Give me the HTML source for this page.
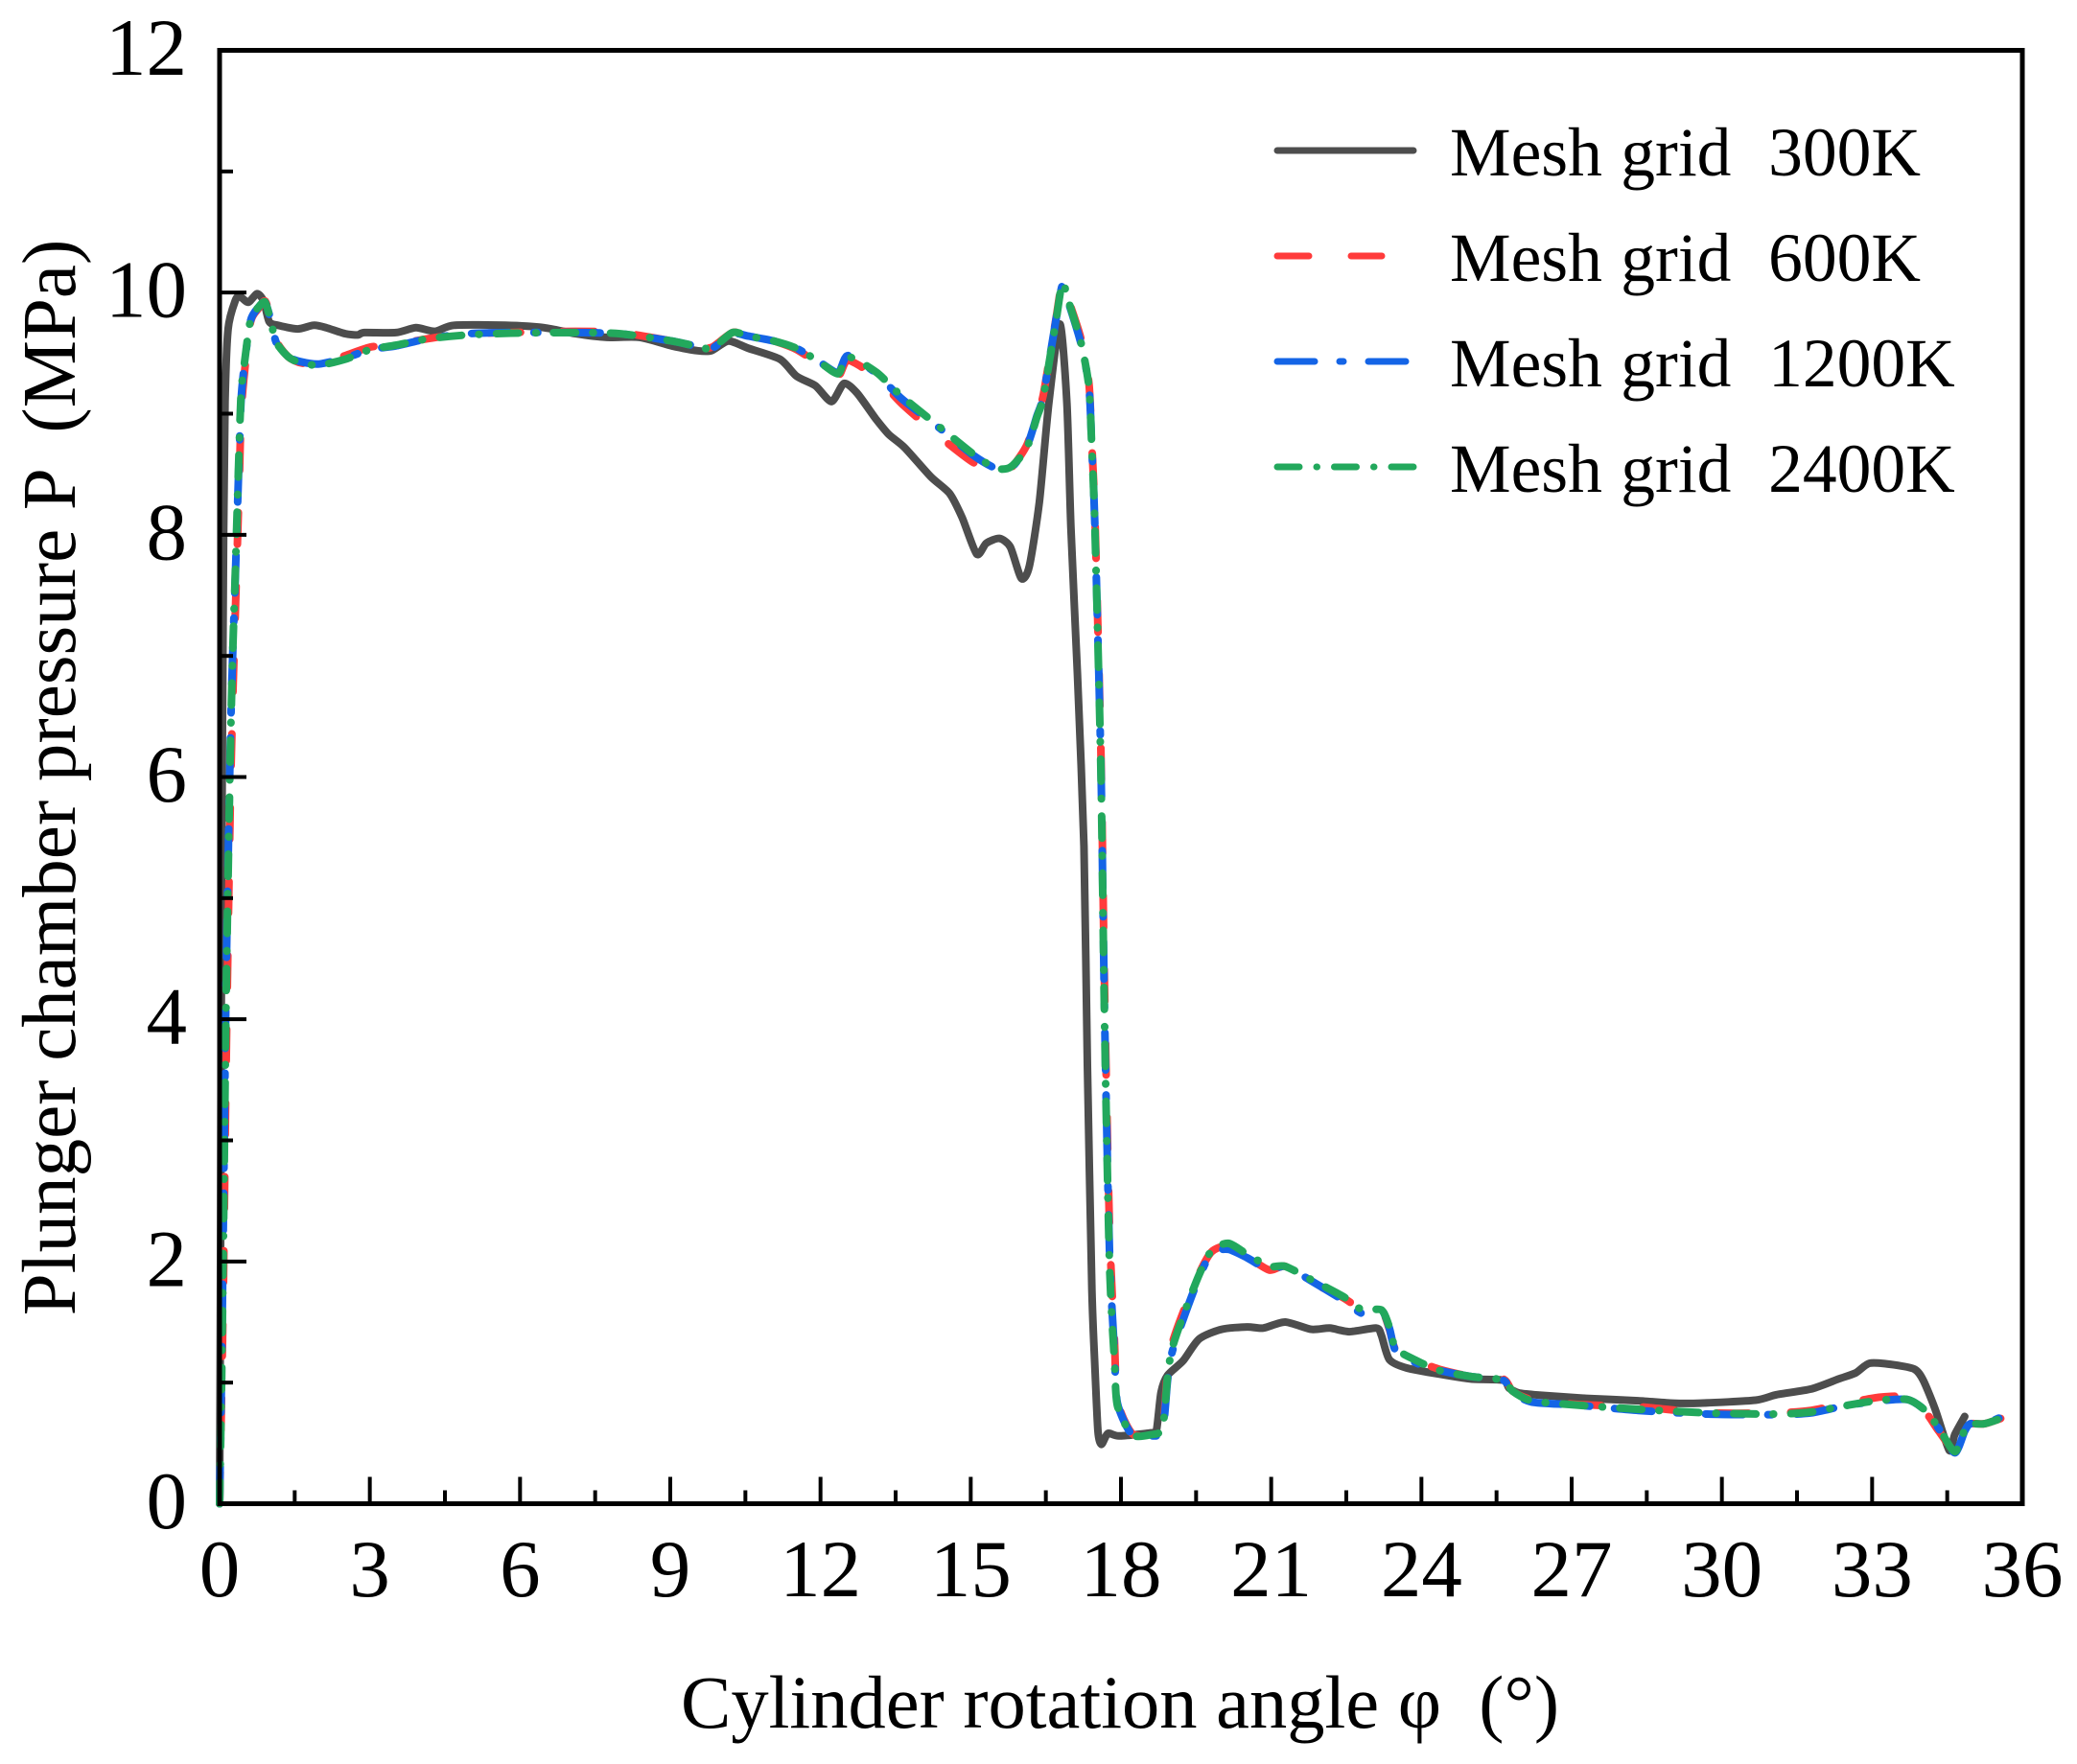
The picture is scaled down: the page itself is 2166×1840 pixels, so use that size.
<!DOCTYPE html>
<html lang="en">
<head>
<meta charset="utf-8">
<title>Plunger chamber pressure vs cylinder rotation angle</title>
<style>
html,body{margin:0;padding:0;background:#fff;width:2166px;height:1840px;overflow:hidden}
svg{display:block}
text{font-family:"Liberation Serif","Times New Roman",serif;fill:#000;white-space:pre}
</style>
</head>
<body>
<svg id="chart" xmlns="http://www.w3.org/2000/svg" width="2166" height="1840" viewBox="0 0 2166 1840">
  <rect x="0" y="0" width="2166" height="1840" fill="#fff"/>
  <g id="series" fill="none" stroke-linecap="round" stroke-linejoin="round"></g>
  <g id="axes"></g>
  <text transform="translate(78,811) rotate(-90)" text-anchor="middle" font-size="79">Plunger chamber pressure P  (MPa)</text>
  <text x="1168" y="1802" text-anchor="middle" font-size="78.5">Cylinder rotation angle φ  (°)</text>
  <g fill="none" stroke-linecap="round" stroke-width="7">
    <g>
      <line x1="1332" y1="157" x2="1474" y2="157" stroke="#4d4d4d"/>
      <text x="1512" y="183" font-size="71.5" word-spacing="1.5">Mesh grid  300K</text>
    </g>
    <g>
      <line x1="1332" y1="267" x2="1441" y2="267" stroke="#ff3b3b" stroke-dasharray="33 44"/>
      <text x="1512" y="293" font-size="71.5" word-spacing="1.5">Mesh grid  600K</text>
    </g>
    <g>
      <line x1="1332" y1="377" x2="1470" y2="377" stroke="#1464e6" stroke-dasharray="39 26 4 26"/>
      <text x="1512" y="403" font-size="71.5" word-spacing="1.5">Mesh grid  1200K</text>
    </g>
    <g>
      <line x1="1332" y1="487" x2="1474" y2="487" stroke="#22a85c" stroke-dasharray="23 18 0.5 18"/>
      <text x="1512" y="513" font-size="71.5" word-spacing="1.5">Mesh grid  2400K</text>
    </g>
  </g>
</svg>
<script>
const xTickLabels = [0,3,6,9,12,15,18,21,24,27,30,33,36];
const yTickLabels = [0,2,4,6,8,10,12];
const xMinorTicks = [1.5,4.5,7.5,10.5,13.5,16.5,19.5,22.5,25.5,28.5,31.5,34.5];
const yMinorTicks = [1,3,5,7,9,11];

const anglesCoarse = [0,.02,.04,.08,.11,.17,.31,.4,.57,.75,.88,.99,1.16,1.56,1.88,2.13,2.51,2.76,2.89,3.52,3.92,4.3,4.68,5.7,6.48,7.11,7.73,8.39,9.03,9.54,9.82,10.16,10.56,11.19,11.52,11.9,12.22,12.47,12.73,13.1,13.36,13.68,14.2,14.58,14.83,15.12,15.31,15.57,15.79,16.01,16.17,16.37,16.56,16.78,16.92,17,17.13,17.26,17.33,17.42,17.48,17.54,17.61,17.74,17.96,18.6,18.71,18.8,18.93,19.24,19.56,20.01,20.52,20.84,21.28,21.8,22.17,22.56,23.1,23.2,23.36,23.71,24.36,24.99,25.63,25.75,25.94,26.25,27.29,28.33,29.02,29.57,30.67,31.09,31.78,32.33,32.67,32.95,33.43,33.85,34.02,34.26,34.54,34.65,34.85];
const pressure300K = [0,2,5,8,9.1,9.7,9.93,9.97,9.92,9.99,9.93,9.76,9.73,9.7,9.73,9.71,9.66,9.65,9.67,9.67,9.71,9.68,9.73,9.73,9.71,9.66,9.63,9.63,9.56,9.52,9.52,9.6,9.54,9.45,9.31,9.23,9.1,9.25,9.17,8.96,8.83,8.72,8.48,8.34,8.14,7.84,7.93,7.97,7.9,7.64,7.74,8.27,9.09,9.74,9.09,8.06,6.85,5.43,3.62,1.76,1.13,.6,.49,.58,.56,.585,.61,.92,1.06,1.18,1.36,1.44,1.46,1.45,1.5,1.44,1.45,1.42,1.45,1.39,1.19,1.12,1.07,1.03,1.02,.955,.915,.9,.87,.85,.83,.83,.855,.9,.947,1.03,1.08,1.16,1.147,1.11,1.02,.78,.44,.57,.72];

const anglesFine = [0,.04,.08,.13,.21,.26,.31,.39,.43,.5,.62,.78,.91,1.03,1.13,1.37,1.61,1.99,2.51,3.01,3.52,4.17,4.94,5.82,7.11,8,9.03,9.59,9.84,10.24,10.56,11.07,11.52,11.97,12.35,12.55,13.12,13.63,14.41,15.04,15.49,15.8,16.12,16.32,16.45,16.7,16.83,16.95,17.2,17.36,17.42,17.48,17.6,17.67,17.77,17.87,17.93,18.22,18.6,18.83,18.93,19.02,19.24,19.56,19.81,20.14,20.52,20.96,21.28,21.8,22.44,22.82,23.2,23.36,23.49,23.91,24.36,24.99,25.63,25.82,26.2,27.08,28.33,29.71,31.09,31.78,32.47,33.16,33.71,34.06,34.33,34.65,34.85,34.96,35.24,35.61];
const pressure600K = [0,.9,1.9,3.6,5.7,6.6,7.3,8.4,9,9.35,9.76,9.87,9.93,9.78,9.6,9.47,9.42,9.41,9.48,9.55,9.57,9.62,9.66,9.67,9.68,9.67,9.6,9.55,9.55,9.67,9.65,9.6,9.53,9.41,9.31,9.44,9.3,9.08,8.8,8.6,8.52,8.55,8.74,8.99,9.16,9.78,10.09,9.94,9.62,9.25,8.73,8.15,6.2,4.3,2.3,1.35,.85,.58,.57,.63,1.1,1.32,1.58,1.9,2.08,2.13,2.04,1.93,1.96,1.83,1.7,1.6,1.6,1.44,1.27,1.18,1.11,1.05,1.03,.93,.86,.82,.8,.75,.75,.77,.83,.88,.88,.76,.6,.44,.6,.66,.66,.71];
const pressure1200K = [0,1.1,2.5,4.3,6.2,7,7.6,8.65,9.12,9.42,9.77,9.88,9.92,9.76,9.59,9.47,9.43,9.41,9.46,9.53,9.56,9.62,9.66,9.67,9.67,9.66,9.6,9.55,9.54,9.66,9.64,9.6,9.54,9.43,9.34,9.48,9.33,9.12,8.87,8.66,8.55,8.55,8.73,8.98,9.15,9.77,10.06,9.92,9.58,9.22,8.7,8.08,6.1,4.1,2.1,1.25,.83,.57,.56,.6,1.02,1.25,1.52,1.87,2.07,2.1,2.03,1.93,1.96,1.84,1.68,1.57,1.6,1.45,1.26,1.16,1.1,1.05,1.02,.92,.84,.815,.77,.74,.735,.75,.81,.85,.86,.77,.62,.42,.6,.66,.66,.72];
const pressure2400K = [0,1,2.3,4.15,6.13,7,7.64,8.72,9.17,9.43,9.78,9.88,9.92,9.75,9.59,9.47,9.42,9.4,9.45,9.53,9.565,9.62,9.65,9.665,9.67,9.66,9.6,9.55,9.54,9.67,9.64,9.6,9.54,9.43,9.33,9.47,9.34,9.14,8.88,8.67,8.55,8.56,8.72,8.97,9.14,9.76,10.08,9.93,9.59,9.22,8.69,8.06,6.04,4.03,2,1.18,.81,.57,.57,.625,1.05,1.28,1.55,1.89,2.09,2.15,2.06,1.96,1.96,1.85,1.71,1.6,1.6,1.46,1.28,1.18,1.1,1.05,1.02,.93,.85,.815,.78,.75,.74,.757,.81,.855,.86,.77,.625,.43,.61,.66,.66,.71];

const NS = 'http://www.w3.org/2000/svg';
const plotLeft = 229, plotRight = 2109, plotTop = 52.5, plotBottom = 1568.5;
const xMax = 36, yMax = 12;
function xScale(v){ return plotLeft + (v / xMax) * (plotRight - plotLeft); }
function yScale(v){ return plotBottom - (v / yMax) * (plotBottom - plotTop); }

function buildPath(xs, ys){
  const pts = xs.map(function(v,i){ return [xScale(v), yScale(ys[i])]; });
  let d = 'M' + pts[0][0].toFixed(1) + ' ' + pts[0][1].toFixed(1);
  const t = 0.12;
  for(let i = 0; i < pts.length - 1; i++){
    const p0 = pts[Math.max(i-1,0)], p1 = pts[i], p2 = pts[i+1], p3 = pts[Math.min(i+2,pts.length-1)];
    const c1x = p1[0] + (p2[0]-p0[0])*t, c1y = p1[1] + (p2[1]-p0[1])*t;
    const c2x = p2[0] - (p3[0]-p1[0])*t, c2y = p2[1] - (p3[1]-p1[1])*t;
    d += 'C' + c1x.toFixed(1) + ' ' + c1y.toFixed(1) + ' ' + c2x.toFixed(1) + ' ' + c2y.toFixed(1) + ' ' + p2[0].toFixed(1) + ' ' + p2[1].toFixed(1);
  }
  return d;
}

const seriesGroup = document.getElementById('series');
const axesGroup = document.getElementById('axes');

function addSeries(name, xs, ys, color, dash){
  const p = document.createElementNS(NS,'path');
  
  
  p.setAttribute('d', buildPath(xs, ys));
  p.setAttribute('stroke', color);
  p.setAttribute('stroke-width', '8');
  if(dash) p.setAttribute('stroke-dasharray', dash);
  seriesGroup.appendChild(p);
}
addSeries('line-mesh-300k', anglesCoarse, pressure300K, '#4d4d4d', null);
addSeries('line-mesh-600k', anglesFine, pressure600K, '#ff3b3b', '33 44');
addSeries('line-mesh-1200k', anglesFine, pressure1200K, '#1464e6', '39 26 4 26');
addSeries('line-mesh-2400k', anglesFine, pressure2400K, '#22a85c', '23 18 0.5 18');

function addLine(name, x1, y1, x2, y2, w){
  const l = document.createElementNS(NS,'line');
  
  
  l.setAttribute('x1', x1);
  l.setAttribute('y1', y1);
  l.setAttribute('x2', x2);
  l.setAttribute('y2', y2);
  l.setAttribute('stroke', '#000');
  l.setAttribute('stroke-width', w);
  axesGroup.appendChild(l);
}
function addLabel(name, x, y, anchor, str){
  const t = document.createElementNS(NS,'text');
  
  
  t.setAttribute('x', x);
  t.setAttribute('y', y);
  t.setAttribute('text-anchor', anchor);
  t.setAttribute('font-size', '85');
  t.textContent = str;
  axesGroup.appendChild(t);
}

const frame = document.createElementNS(NS,'rect');


frame.setAttribute('x', plotLeft);
frame.setAttribute('y', plotTop);
frame.setAttribute('width', plotRight - plotLeft);
frame.setAttribute('height', plotBottom - plotTop);
frame.setAttribute('fill', 'none');
frame.setAttribute('stroke', '#000');
frame.setAttribute('stroke-width', '5');
axesGroup.appendChild(frame);

xTickLabels.forEach(function(v){
  if(v > 0 && v < xMax) addLine('x-major-tick', xScale(v), plotBottom, xScale(v), plotBottom - 28, 4);
  addLabel('x-tick-label', xScale(v), 1665, 'middle', String(v));
});
xMinorTicks.forEach(function(v){
  addLine('x-minor-tick', xScale(v), plotBottom, xScale(v), plotBottom - 14, 4);
});
yTickLabels.forEach(function(v){
  if(v > 0 && v < yMax) addLine('y-major-tick', plotLeft, yScale(v), plotLeft + 28, yScale(v), 4);
  addLabel('y-tick-label', 195, yScale(v) + 25.5, 'end', String(v));
});
yMinorTicks.forEach(function(v){
  addLine('y-minor-tick', plotLeft, yScale(v), plotLeft + 14, yScale(v), 4);
});
</script>
</body>
</html>
